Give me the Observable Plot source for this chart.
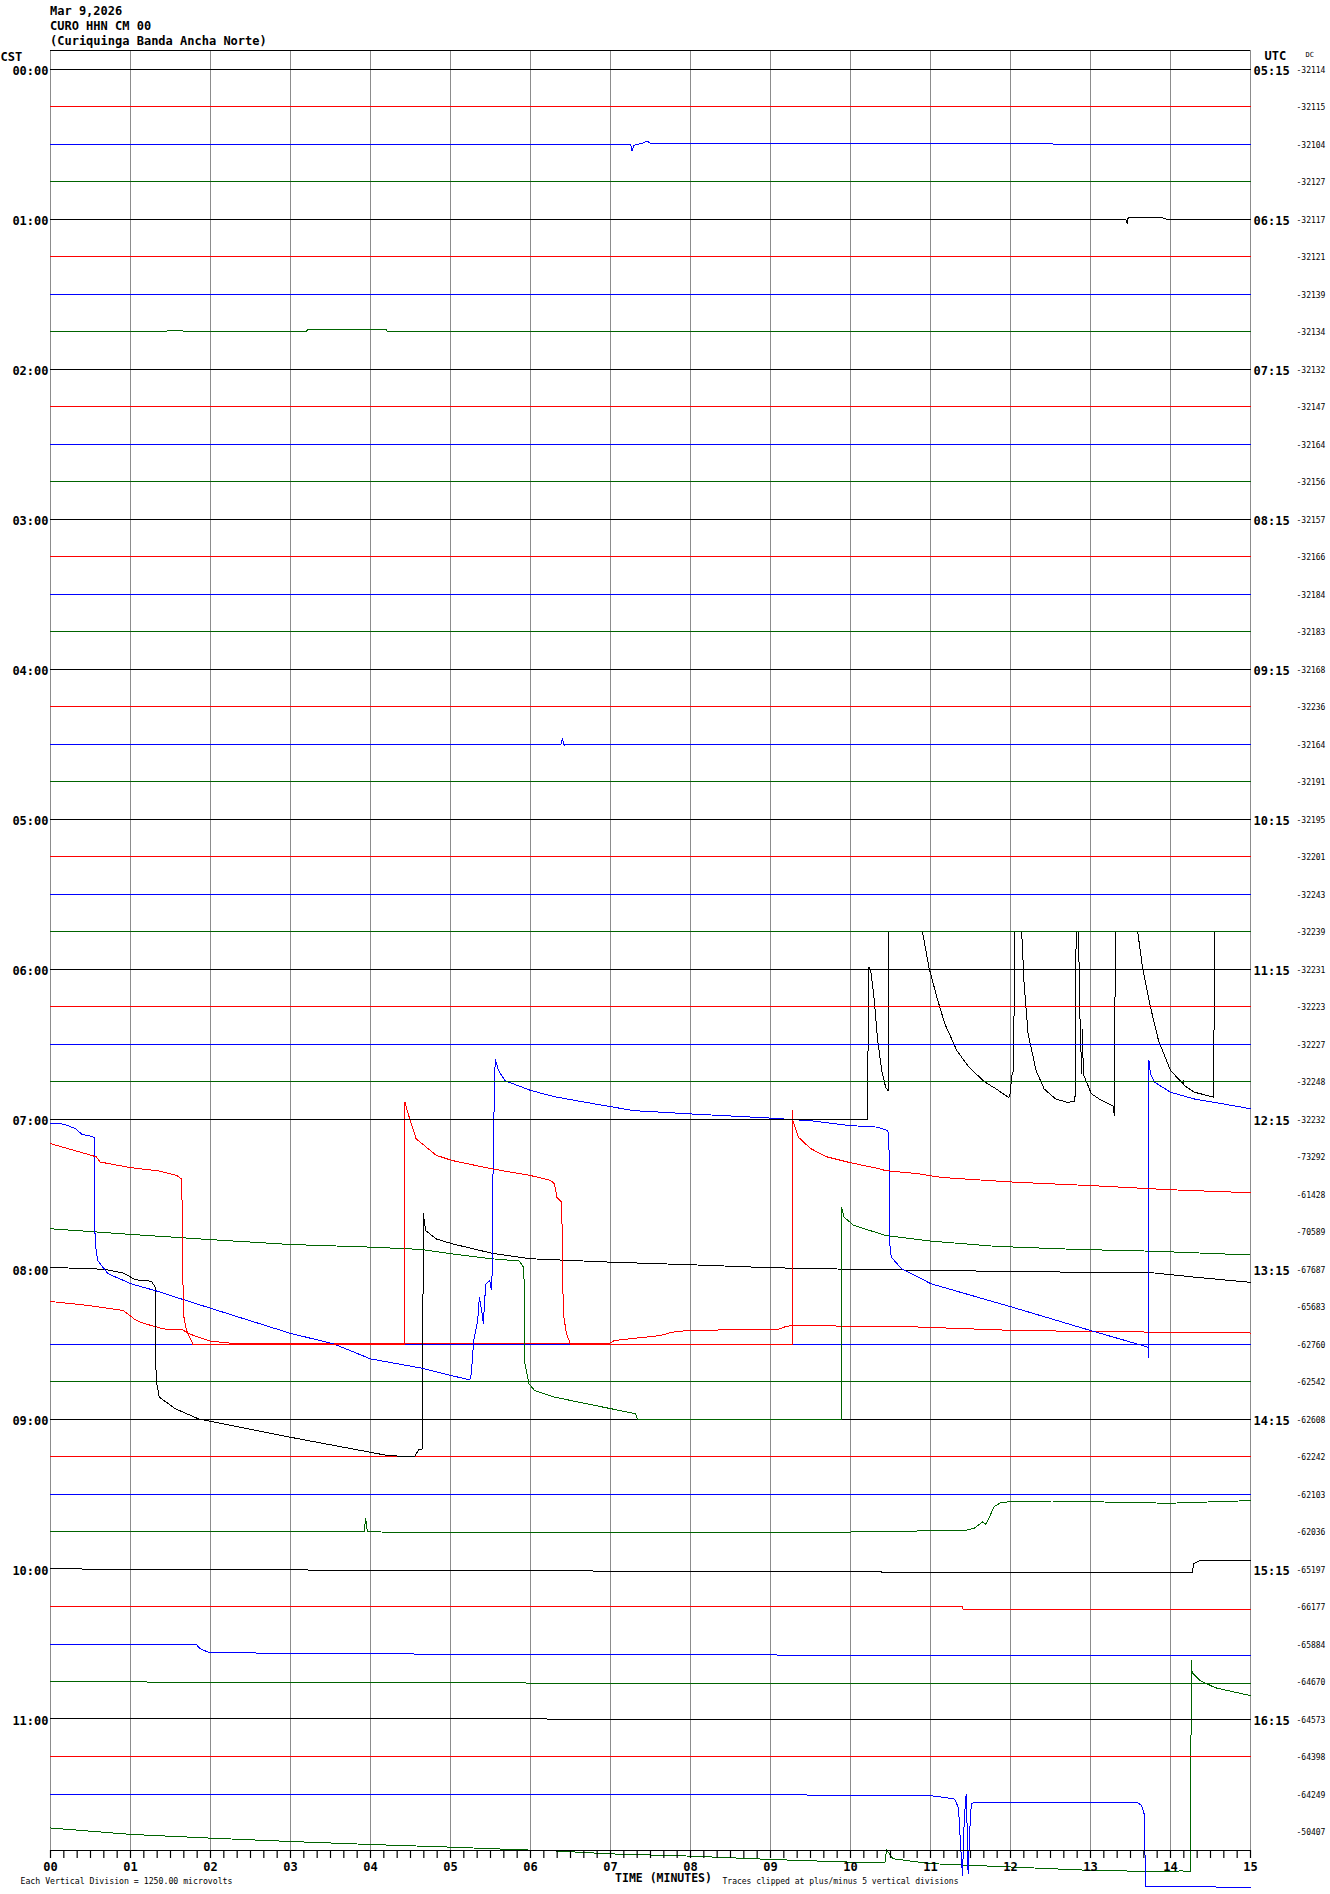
<!DOCTYPE html>
<html>
<head>
<meta charset="utf-8">
<script src="https://cdn.jsdelivr.net/npm/d3@7"></script>
<script src="https://cdn.jsdelivr.net/npm/@observablehq/plot@0.6"></script>
<style>
  html, body { margin: 0; padding: 0; background: #fff; }
  #header { height: 49px; box-sizing: border-box; padding: 4px 0 0 50px;
            font: bold 12px/15px "DejaVu Sans Mono", monospace; color: #000; white-space: pre; }
  #chart svg { display: block; }
</style>
</head>
<body>
<div id="header"><div>Mar 9,2026</div><div>CURO HHN CM 00</div><div>(Curiquinga Banda Ancha Norte)</div></div>
<div id="chart"></div>
<script>
// ---------- labels ----------
const cstLabels = ["00:00","01:00","02:00","03:00","04:00","05:00","06:00","07:00","08:00","09:00","10:00","11:00"];
const utcLabels = ["05:15","06:15","07:15","08:15","09:15","10:15","11:15","12:15","13:15","14:15","15:15","16:15"];
const dcValues = [
  "-32114","-32115","-32104","-32127","-32117","-32121","-32139","-32134",
  "-32132","-32147","-32164","-32156","-32157","-32166","-32184","-32183",
  "-32168","-32236","-32164","-32191","-32195","-32201","-32243","-32239",
  "-32231","-32223","-32227","-32248","-32232","-73292","-61428","-70589",
  "-67687","-65683","-62760","-62542","-62608","-62242","-62103","-62036",
  "-65197","-66177","-65884","-64670","-64573","-64398","-64249","-50407"];
const minuteTicks = d3.range(16);
const subTicks = d3.range(91).map(i => i / 6);
const traceColors = ["#000000", "#ff0000", "#0000ff", "#006400"];

// ---------- traces: [minute, offset in vertical divisions] ----------
const flatTrace = [[0, 0], [15, 0]];
const tr0030 = [[0,0],[7.25,0],[7.27,-0.18],[7.29,-0.03],[7.4,0.03],[7.46,0.08],[7.5,0.02],[15,0]];
const tr0100 = [[0,0],[13.44,0],[13.46,-0.12],[13.47,0.04],[13.9,0.04],[13.95,0],[15,0]];
const tr0145 = [[0,0],[1.45,0],[1.46,0.04],[1.65,0.04],[1.66,0],[3.2,0],[3.21,0.05],[4.2,0.05],[4.21,0],[15,0]];
const tr0430 = [[0,0],[6.38,0],[6.4,0.15],[6.42,-0.03],[6.44,0],[15,0]];
const tr0700 = [[0,0],[10.21,0],[10.23,4.05],[10.25,4.0],[10.29,3.34],[10.34,2.1],[10.39,1.3],[10.44,0.85],[10.47,0.76],
  [10.475,5],[10.9,5],[10.98,4.05],[11.08,3.25],[11.18,2.54],[11.33,1.83],[11.48,1.39],[11.68,0.99],[11.82,0.81],[11.97,0.59],
  [11.99,0.6],[12.02,1.21],[12.04,1.3],[12.05,5],[12.14,5],[12.17,3.61],[12.22,2.28],[12.32,1.3],[12.42,0.81],[12.565,0.54],
  [12.71,0.45],[12.8,0.48],[12.81,0.68],[12.82,5],[12.85,5],[12.87,2.54],[12.89,1.21],[12.9,2.4],[12.91,1.2],[12.96,0.95],
  [13.01,0.68],[13.11,0.54],[13.28,0.36],[13.3,0.1],[13.31,5],[13.59,5],[13.65,4.05],[13.75,2.99],[13.85,2.1],[14.0,1.3],
  [14.15,0.96],[14.16,1.03],[14.17,0.9],[14.3,0.72],[14.54,0.59],[14.55,5],[15,5]];
const tr0715 = [[0,0.35],[0.57,0.0],[0.62,-0.14],[1.0,-0.29],[1.36,-0.38],[1.58,-0.5],[1.64,-0.6],[1.65,-2],[1.66,-4.19],
  [1.7,-4.63],[1.78,-5],[4.42,-5],[4.43,1.46],[4.47,1.15],[4.57,0.48],[4.82,0.04],[5.02,-0.1],[5.51,-0.32],[6.0,-0.5],
  [6.25,-0.63],[6.3,-0.72],[6.33,-1.08],[6.39,-1.21],[6.41,-4.19],[6.45,-4.72],[6.5,-5],[9.27,-5],[9.275,1.23],[9.28,0.97],
  [9.35,0.52],[9.5,0.22],[9.7,0.0],[10.0,-0.16],[10.34,-0.31],[10.44,-0.37],[10.84,-0.45],[11.13,-0.55],[11.55,-0.61],
  [12.07,-0.68],[13.01,-0.77],[14.0,-0.88],[15,-0.96]];
const tr0730 = [[0,1.89],[0.17,1.87],[0.32,1.74],[0.39,1.6],[0.52,1.54],[0.55,1.5],[0.555,-1.0],[0.57,-1.5],[0.59,-1.77],
  [0.72,-2.12],[1.01,-2.39],[1.31,-2.57],[2.0,-3.04],[3.0,-3.71],[3.54,-3.99],[4.0,-4.39],[4.62,-4.63],[5.02,-4.84],
  [5.24,-4.95],[5.26,-4.8],[5.29,-3.9],[5.34,-3.37],[5.36,-2.75],[5.39,-3.1],[5.41,-3.45],[5.44,-2.4],[5.49,-2.3],
  [5.51,-2.55],[5.52,-2.15],[5.53,0.36],[5.55,3.0],[5.56,3.6],[5.6,3.3],[5.68,3.03],[6.0,2.77],[6.3,2.6],[6.8,2.41],
  [7.29,2.23],[8.02,2.14],[9.01,2.03],[9.5,1.96],[10.0,1.83],[10.34,1.79],[10.46,1.7],[10.48,1.6],[10.49,-1.32],
  [10.51,-1.68],[10.64,-1.99],[11.01,-2.39],[12.02,-3.01],[13.01,-3.64],[13.58,-3.99],[13.72,-4.08],[13.725,-4.35],
  [13.73,3.58],[13.75,3.2],[13.8,2.99],[14.0,2.72],[14.3,2.54],[14.79,2.36],[15,2.28]];
const tr0745 = [[0,0.08],[1.0,-0.07],[2.0,-0.21],[3.0,-0.34],[4.0,-0.41],[4.62,-0.47],[5.02,-0.59],[5.51,-0.72],[5.86,-0.78],
  [5.91,-0.94],[5.92,-1.3],[5.93,-3.52],[5.98,-4.05],[6.05,-4.23],[6.3,-4.41],[6.8,-4.63],[7.31,-4.85],[7.34,-5],[9.886,-5],
  [9.89,0.64],[9.92,0.39],[10.04,0.17],[10.44,-0.1],[11.01,-0.25],[11.82,-0.39],[12.81,-0.47],[13.8,-0.52],[15,-0.62]];
const tr0800 = [[0,0.05],[0.67,0],[0.91,-0.1],[1.06,-0.28],[1.26,-0.32],[1.31,-0.48],[1.32,-2.96],[1.36,-3.41],[1.56,-3.72],
  [1.85,-3.99],[3.0,-4.48],[4.22,-4.97],[4.55,-5],[4.6,-4.82],[4.65,-4.79],[4.66,1.48],[4.69,1.03],[4.82,0.81],[5.02,0.68],
  [5.51,0.43],[6.0,0.28],[6.99,0.19],[8.0,0.12],[9.01,0.04],[10.0,0],[12.02,-0.06],[13.8,-0.1],[14.3,-0.21],[15,-0.35]];
const tr0815 = [[0,0.14],[0.37,0.06],[0.62,-0.01],[0.91,-0.1],[0.99,-0.23],[1.06,-0.35],[1.16,-0.44],[1.36,-0.56],[1.46,-0.61],
  [1.65,-0.61],[1.73,-0.72],[1.85,-0.81],[2.0,-0.92],[2.25,-0.97],[6.99,-0.97],[7.05,-0.9],[7.3,-0.84],[7.62,-0.77],[7.77,-0.68],
  [7.97,-0.63],[9.1,-0.6],[9.2,-0.52],[9.3,-0.5],[10.84,-0.54],[12.02,-0.63],[13.01,-0.66],[15,-0.7]];
const tr0945 = [[0,0],[3.92,0],[3.94,0.35],[3.96,0],[4.74,-0.03],[9.9,-0.01],[11.45,0.04],[11.55,0.1],[11.65,0.26],[11.69,0.2],
  [11.74,0.4],[11.79,0.66],[11.89,0.79],[12.52,0.82],[13.98,0.76],[15,0.83]];
const tr1000 = [[0,0.03],[0.5,0],[9.9,-0.07],[14.27,-0.1],[14.29,0.15],[14.37,0.23],[15,0.23]];
const tr1015 = [[0,0],[11.4,0],[11.41,-0.08],[15,-0.08]];
const tr1030 = [[0,0],[1.82,0],[1.87,-0.12],[1.97,-0.21],[2.31,-0.23],[6.0,-0.28],[15,-0.3]];
const tr1045 = [[0,0],[8.9,-0.05],[15,-0.04]];
const tr1100 = [[0,0.03],[6.2,0.03],[6.21,-0.01],[15,-0.01]];
const tr1130 = [[0,0],[9.41,0],[9.51,-0.04],[11.0,-0.04],[11.16,-0.08],[11.3,-0.13],[11.35,-0.36],[11.38,-1.5],[11.4,-2.17],
  [11.42,-0.8],[11.44,-0.08],[11.45,0.0],[11.46,-1.2],[11.47,-2.12],[11.49,-1.0],[11.51,-0.26],[11.55,-0.21],[13.59,-0.23],
  [13.64,-0.3],[13.67,-0.52],[13.69,-2.46],[15,-2.48]];
const tr1145 = [[0,0.1],[1.0,-0.07],[2.0,-0.17],[3.0,-0.26],[4.0,-0.34],[5.0,-0.41],[5.86,-0.48],[6.2,-0.5],[7.0,-0.59],
  [8.0,-0.65],[9.02,-0.74],[10.0,-0.81],[10.43,-0.83],[10.45,-0.48],[10.53,-0.72],[11.0,-0.85],[12.0,-0.94],[13.0,-1.03],
  [14.08,-1.07],[14.13,-1.02],[14.18,-1.07],[14.25,-1.05],[14.26,4.58],[14.27,4.25],[14.37,4.03],[14.56,3.84],[15,3.63]];

// ---------- build table (later rows drawn first, earlier rows on top) ----------
const traceByRow = new Map([[2,tr0030],[4,tr0100],[7,tr0145],[18,tr0430],[28,tr0700],[29,tr0715],[30,tr0730],[31,tr0745],
  [32,tr0800],[33,tr0815],[39,tr0945],[40,tr1000],[41,tr1015],[42,tr1030],[43,tr1045],[44,tr1100],[46,tr1130],[47,tr1145]]);
const clip = v => Math.max(-5, Math.min(5, v));
const lineData = d3.range(47, -1, -1).flatMap(row =>
  (traceByRow.get(row) ?? flatTrace).map(([m, off]) => ({row, m, y: row - clip(off), color: traceColors[row % 4]})));
const hourRows = cstLabels.map((t, i) => ({row: i * 4, cst: t, utc: utcLabels[i]}));
const dcRows = dcValues.map((v, i) => ({row: i, dc: v}));
const FONT = "DejaVu Sans Mono";

const chart = Plot.plot({
  width: 1330,
  height: 1844,
  marginLeft: 50, marginRight: 80, marginTop: 1, marginBottom: 43,
  x: {domain: [0, 15], axis: null},
  y: {domain: [-0.5, 47.5], reverse: true, axis: null},
  color: {type: "identity"},
  style: {fontFamily: FONT, background: "#fff", color: "#000", overflow: "visible"},
  marks: [
    Plot.ruleX(minuteTicks, {x: d => d, stroke: "#8c8c8c", strokeWidth: 1, shapeRendering: "crispEdges"}),
    Plot.ruleY([-0.5], {stroke: "#000", shapeRendering: "crispEdges"}),
    Plot.line(lineData, {x: "m", y: "y", z: "row", stroke: "color", strokeWidth: 1, shapeRendering: "crispEdges"}),
    Plot.ruleY([47.5], {stroke: "#000", strokeWidth: 1.5, shapeRendering: "crispEdges"}),
    Plot.axisX({ticks: subTicks, tickSize: 8, tickFormat: () => "", label: null, anchor: "bottom", strokeWidth: 1.2}),
    Plot.axisX({ticks: minuteTicks, tickSize: 0, tickPadding: 12, label: null, anchor: "bottom",
      tickFormat: d => String(d).padStart(2, "0"), fontSize: 12, fontWeight: "bold"}),
    Plot.text(hourRows, {x: 0, y: "row", text: "cst", textAnchor: "end", dx: -2, dy: 2, fontSize: 12, fontWeight: "bold"}),
    Plot.text(hourRows, {x: 15, y: "row", text: "utc", textAnchor: "start", dx: 3, dy: 2, fontSize: 12, fontWeight: "bold"}),
    Plot.text(dcRows, {x: 15, y: "row", text: "dc", textAnchor: "start", dx: 46, dy: 1, fontSize: 8}),
    Plot.text(["CST"], {x: 0, y: -0.5, text: d => d, textAnchor: "start", dx: -50, dy: 7, fontSize: 12, fontWeight: "bold"}),
    Plot.text(["UTC"], {x: 15, y: -0.5, text: d => d, textAnchor: "start", dx: 14, dy: 6, fontSize: 12, fontWeight: "bold"}),
    Plot.text(["DC"], {x: 15, y: -0.5, text: d => d, textAnchor: "start", dx: 55, dy: 4, fontSize: 7}),
    Plot.text(["TIME (MINUTES)"], {x: 7.5, y: 47.5, text: d => d, textAnchor: "middle", dx: 13, dy: 28, fontSize: 11.5, fontWeight: "bold"}),
    Plot.text(["Each Vertical Division = 1250.00 microvolts"], {x: 0, y: 47.5, text: d => d, textAnchor: "start", dx: -30, dy: 31, fontSize: 8.2}),
    Plot.text(["Traces clipped at plus/minus 5 vertical divisions"], {x: 7.5, y: 47.5, text: d => d, textAnchor: "start", dx: 72, dy: 31, fontSize: 8})
  ]
});
document.getElementById("chart").appendChild(chart);
</script>
</body>
</html>
